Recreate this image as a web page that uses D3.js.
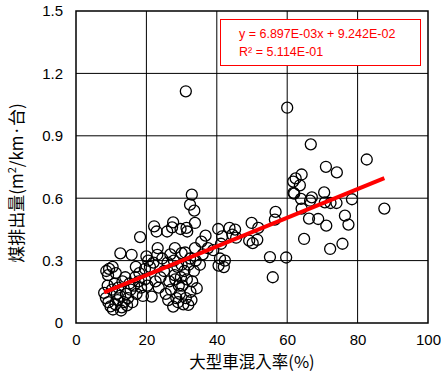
<!DOCTYPE html>
<html><head><meta charset="utf-8">
<script src="https://cdn.jsdelivr.net/npm/d3@7"></script>
<style>body{margin:0;background:#fff}svg{display:block}</style>
</head><body>
<script>
const xTicks = [0, 20, 40, 60, 80, 100];
const yTicks = [0, 0.3, 0.6, 0.9, 1.2, 1.5];
const yTickLabels = ["0", "0.3", "0.6", "0.9", "1.2", "1.5"];
const xTitle = "大型車混入率(%)";
const eqText = "y = 6.897E-03x + 9.242E-02";
const r2Text = "R\u00b2 = 5.114E-01";
const slope = 6.897e-3;
const intercept = 9.242e-2;

const mixRate = [
  8.0,8.5,9.2,9.8,10.5,11.2,11.8,12.5,13.0,13.6,14.2,14.8,15.5,16.0,16.5,17.2,17.8,18.5,19.0,19.6,20.3,
  10.2,11.0,12.0,13.2,14.0,12.8,14.5,11.6,15.2,16.8,9.0,8.6,9.4,10.4,9.1,11.3,12.6,15.8,18.2,19.6,20.5,21.0,22.0,21.5,22.6,18.0,17.0,20.0,
  22.2,22.9,25.9,27.6,27.3,29.7,31.4,31.6,23.2,23.1,28.1,30.0,31.0,24.5,26.0,25.0,24.0,26.5,27.0,27.6,28.5,29.0,29.5,30.2,30.5,31.2,31.9,32.5,33.0,33.5,32.0,30.8,29.8,28.8,27.8,26.8,28.2,29.2,31.5,32.8,34.3,35.2,32.4,33.8,35.6,36.8,33.8,32.9,32.4,33.6,31.2,23.5,25.5,26.2,28.0,30.0,34.0,36.0,37.5,
  40.4,43.6,44.4,41.5,41.2,40.9,42.0,40.5,42.3,39.0,45.5,
  45.2,49.9,51.8,49.2,50.2,51.5,56.7,56.5,55.1,59.7,55.9,60.0,66.7,82.6,71.0,74.1,64.1,62.4,61.7,63.6,61.8,62.0,70.5,67.0,63.9,66.5,70.7,72.3,74.0,78.4,87.6,64.1,66.2,68.8,76.4,77.4,71.1,64.8,72.2,75.7
];
const emission = [
  0.145,0.12,0.10,0.08,0.065,0.09,0.11,0.13,0.075,0.10,0.14,0.12,0.16,0.10,0.18,0.14,0.20,0.17,0.13,0.21,0.18,
  0.16,0.19,0.17,0.20,0.22,0.06,0.085,0.14,0.19,0.22,0.18,0.25,0.26,0.27,0.23,0.24,0.335,0.328,0.413,0.26,0.30,0.27,0.29,0.127,0.20,0.24,0.27,0.32,
  0.465,0.44,0.44,0.484,0.46,0.452,0.457,0.44,0.36,0.328,0.36,0.336,0.339,0.31,0.29,0.25,0.22,0.20,0.16,0.079,0.12,0.10,0.14,0.18,0.09,0.12,0.087,0.15,0.20,0.25,0.28,0.25,0.22,0.27,0.30,0.33,0.21,0.18,0.21,0.11,0.167,0.28,0.31,0.36,0.391,0.42,0.481,0.617,0.569,0.54,1.114,0.17,0.14,0.11,0.23,0.28,0.30,0.33,0.36,
  0.452,0.457,0.425,0.416,0.381,0.31,0.269,0.276,0.30,0.35,0.41,
  0.449,0.481,0.457,0.396,0.384,0.40,0.534,0.497,0.317,0.315,0.22,1.035,0.859,0.786,0.751,0.724,0.714,0.695,0.68,0.662,0.626,0.622,0.628,0.604,0.597,0.588,0.58,0.577,0.577,0.595,0.55,0.55,0.502,0.50,0.516,0.473,0.468,0.404,0.356,0.381
];

const W = 441, H = 373;
const L = 76, R = 428, T = 11, B = 323;
const numFont = "'Liberation Sans', Arial, sans-serif";
const cjkFont = "'Noto Sans CJK JP', sans-serif";

const svg = d3.select("body").append("svg").attr("width", W).attr("height", H);
const x = d3.scaleLinear().domain([0, 100]).range([L, R]);
const y = d3.scaleLinear().domain([0, 1.5]).range([B, T]);

// grid
svg.append("g").selectAll("line").data(xTicks.slice(1, -1)).join("line")
  .attr("x1", d => x(d)).attr("x2", d => x(d)).attr("y1", T).attr("y2", B)
  .attr("stroke", "#000").attr("stroke-width", 1);
svg.append("g").selectAll("line").data(yTicks.slice(1, -1)).join("line")
  .attr("y1", d => y(d)).attr("y2", d => y(d)).attr("x1", L).attr("x2", R)
  .attr("stroke", "#000").attr("stroke-width", 1);

// axes (labels only)
const xAxis = svg.append("g").attr("transform", `translate(0,${B})`)
  .call(d3.axisBottom(x).tickValues(xTicks).tickSize(0).tickPadding(11));
xAxis.select(".domain").remove();
xAxis.selectAll("text").attr("font-family", numFont).attr("font-size", 15).attr("fill", "#000");

const yAxis = svg.append("g").attr("transform", `translate(${L},0)`)
  .call(d3.axisLeft(y).tickValues(yTicks).tickSize(0).tickPadding(13).tickFormat((d, i) => yTickLabels[i]));
yAxis.select(".domain").remove();
yAxis.selectAll("text").attr("font-family", numFont).attr("font-size", 15).attr("fill", "#000");

// points
const pts = mixRate.map((v, i) => [v, emission[i]]);
svg.append("g").selectAll("circle").data(pts).join("circle")
  .attr("cx", d => x(d[0])).attr("cy", d => y(d[1])).attr("r", 5.5)
  .attr("fill", "none").attr("stroke", "#000").attr("stroke-width", 1.3);

// trendline
const xmin = d3.min(mixRate), xmax = d3.max(mixRate);
svg.append("line")
  .attr("x1", x(xmin)).attr("y1", y(slope * xmin + intercept))
  .attr("x2", x(xmax)).attr("y2", y(slope * xmax + intercept))
  .attr("stroke", "#ff0000").attr("stroke-width", 4);

// frame
svg.append("rect").attr("x", L).attr("y", T).attr("width", R - L).attr("height", B - T)
  .attr("fill", "none").attr("stroke", "#000").attr("stroke-width", 1.5);

// legend box
svg.append("rect").attr("x", 220.5).attr("y", 19.5).attr("width", 200).attr("height", 46)
  .attr("fill", "#fff").attr("stroke", "#ff0000").attr("stroke-width", 1);
svg.append("text").attr("x", 239).attr("y", 38).text(eqText)
  .attr("font-family", numFont).attr("font-size", 12.5).attr("fill", "#ff0000");
svg.append("text").attr("x", 239).attr("y", 56).text(r2Text)
  .attr("font-family", numFont).attr("font-size", 12.5).attr("fill", "#ff0000");

// x title
svg.append("text").attr("x", 252).attr("y", 368).attr("text-anchor", "middle")
  .attr("font-family", cjkFont).attr("font-size", 16.5).attr("fill", "#000").text(xTitle);

// y title
const yt = svg.append("text").attr("transform", "translate(23,183) rotate(-90)")
  .attr("text-anchor", "middle").attr("font-family", cjkFont).attr("font-size", 17).attr("fill", "#000");
yt.append("tspan").text("煤排出量(m");
yt.append("tspan").text("2").attr("font-size", 11).attr("dy", -7);
yt.append("tspan").text("/km·台)").attr("dy", 7);
</script>
</body></html>
